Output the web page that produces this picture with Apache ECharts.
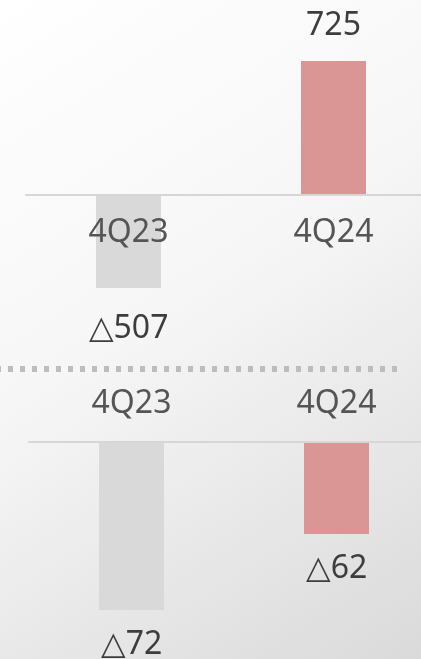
<!DOCTYPE html>
<html>
<head>
<meta charset="utf-8">
<script src="https://cdn.jsdelivr.net/npm/echarts@6/dist/echarts.min.js"></script>
<style>
  html, body { margin: 0; padding: 0; }
  #chart { width: 421px; height: 659px; }
</style>
</head>
<body>
<div id="chart"></div>
<script>
// 上段
const topCategories = ['4Q23', '4Q24']
const topValues = [-507, 725]
// 下段
const bottomCategories = ['4Q23', '4Q24']
const bottomPrev = [-72, null]
const bottomCurr = [null, -62]

const GRAY = '#d9d9d9'
const PINK = '#da9595'

function fmt(p) {
  const v = p.value
  return v < 0 ? '△' + Math.abs(v) : String(v)
}

const valueLabel = {
  show: true,
  fontFamily: 'Noto Sans',
  fontSize: 32,
  color: '#3d3d3d',
  distance: 19,
  formatter: fmt
}

const chart = echarts.init(document.getElementById('chart'))
chart.setOption({
  backgroundColor: new echarts.graphic.LinearGradient(0, 0, 1, 1, [
    { offset: 0, color: '#ffffff' },
    { offset: 0.45, color: '#f6f6f6' },
    { offset: 1, color: '#dadada' }
  ]),
  animation: false,
  grid: [
    { left: 26, width: 410, top: 61, height: 227, outerBoundsMode: 'none' },
    { left: 29, width: 410, top: 442, height: 168, outerBoundsMode: 'none' }
  ],
  xAxis: [
    {
      gridIndex: 0, type: 'category', data: topCategories,
      z: 5,
      axisLine: { onZero: true, lineStyle: { color: '#d6d6d6', width: 2 } },
      axisTick: { show: false },
      // ラベルはゼロ線の直下に置く（グリッド下端からの負のマージン）
      axisLabel: { margin: -71, fontFamily: 'Noto Sans', fontSize: 32, color: '#555555' }
    },
    {
      gridIndex: 1, type: 'category', data: bottomCategories,
      position: 'top', z: 5,
      axisLine: { lineStyle: { color: '#d6d6d6', width: 2 } },
      axisTick: { show: false },
      axisLabel: { margin: 22, fontFamily: 'Noto Sans', fontSize: 32, color: '#555555' }
    }
  ],
  yAxis: [
    { gridIndex: 0, type: 'value', min: -507, max: 725, show: false },
    { gridIndex: 1, type: 'value', min: -72, max: 0, show: false },
    { gridIndex: 1, type: 'value', min: -113.2, max: 0, show: false }
  ],
  graphic: [{
    type: 'line',
    shape: { x1: -4, y1: 369, x2: 398, y2: 369 },
    style: { stroke: '#bdbdbd', lineWidth: 6, lineDash: [5, 7] }
  }],
  series: [
    {
      type: 'bar', xAxisIndex: 0, yAxisIndex: 0,
      barWidth: 65,
      data: topValues.map(function (v) {
        return {
          value: v,
          itemStyle: { color: v < 0 ? GRAY : PINK },
          label: v < 0 ? { position: 'bottom', distance: 25 } : { position: 'top' }
        }
      }),
      label: valueLabel
    },
    {
      type: 'bar', xAxisIndex: 1, yAxisIndex: 1,
      barWidth: 65, barGap: '-100%',
      data: bottomPrev,
      itemStyle: { color: GRAY },
      label: Object.assign({}, valueLabel, { position: 'bottom' })
    },
    {
      type: 'bar', xAxisIndex: 1, yAxisIndex: 2,
      barWidth: 65, barGap: '-100%',
      data: bottomCurr,
      itemStyle: { color: PINK },
      label: Object.assign({}, valueLabel, { position: 'bottom' })
    }
  ]
})
</script>
</body>
</html>
